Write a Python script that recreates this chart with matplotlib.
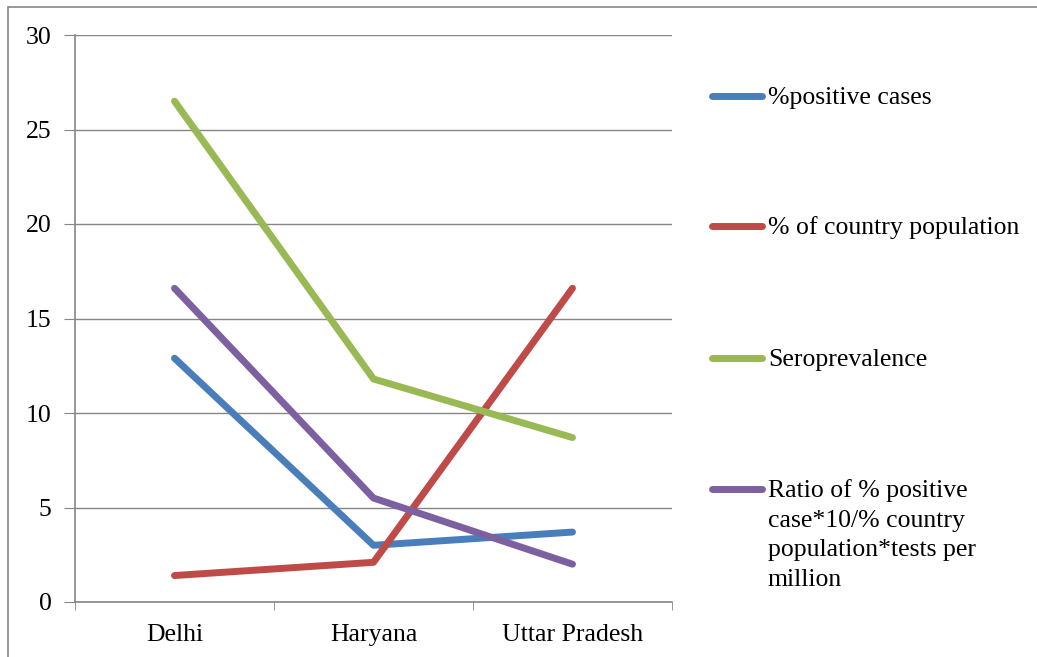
import matplotlib
matplotlib.use("Agg")
import matplotlib.pyplot as plt
from matplotlib.lines import Line2D
from matplotlib.patches import Rectangle

categories = ["Delhi", "Haryana", "Uttar Pradesh"]
positive_cases = [12.9, 3.0, 3.7]
country_population = [1.4, 2.1, 16.6]
seroprevalence = [26.5, 11.8, 8.7]
ratio = [16.6, 5.5, 2.0]
labels = ["%positive cases", "% of country population", "Seroprevalence",
          "Ratio of % positive\ncase*10/% country\npopulation*tests per\nmillion"]
colors = ["#4A7EBB", "#BE4B48", "#98B954", "#7D60A0"]
yticks = [0, 5, 10, 15, 20, 25, 30]

W, H = 1037, 657
fig = plt.figure(figsize=(W / 100, H / 100), dpi=100)
plt.rcParams['font.family'] = ['Liberation Serif', 'DejaVu Serif']
FS = 18.5

# outer chart border
fig.patches.append(Rectangle((8 / W, -0.1), 1.2, (H - 7) / H + 0.1, transform=fig.transFigure,
                             fill=False, edgecolor="#868686", linewidth=1.2))

ax = fig.add_axes([75 / W, (H - 602) / H, 597 / W, 567 / H])
x = list(range(len(categories)))
series = [positive_cases, country_population, seroprevalence, ratio]
for vals, c in zip(series, colors):
    ax.plot(x, vals, color=c, linewidth=5.0, solid_capstyle="round", solid_joinstyle="round", zorder=3)

ax.set_xlim(-0.5, 2.5)
ax.set_ylim(0, 30)
ax.set_yticks(yticks)
ax.set_yticklabels([str(v) for v in yticks], fontsize=FS)
ax.yaxis.grid(True, color="#868686", linewidth=1.0)
ax.set_axisbelow(True)
ax.set_xticks(x)
ax.set_xticklabels(categories, fontsize=FS)
ax.set_xticks([-0.5, 0.5, 1.5, 2.5], minor=True)
ax.tick_params(axis="x", which="major", length=0, pad=16)
ax.tick_params(axis="x", which="minor", length=6, color="#868686", direction="out")
ax.tick_params(axis="y", length=8, color="#868686", direction="out", pad=9)
for s in ["top", "right"]:
    ax.spines[s].set_visible(False)
for s in ["left", "bottom"]:
    ax.spines[s].set_color("#868686")
    ax.spines[s].set_linewidth(1.2)

# legend
ys = [96, 226, 358, 489]
for lab, c, yy in zip(labels, colors, ys):
    fig.add_artist(Line2D([712 / W, 762 / W], [(H - yy) / H] * 2, color=c, linewidth=5.0,
                          solid_capstyle="round", transform=fig.transFigure))
    for i, line in enumerate(lab.split("\n")):
        fig.text(768 / W, (H - yy - 2 - i * 29.5) / H, line, fontsize=FS, va="center",
                 ha="left", transform=fig.transFigure)

fig.savefig("out.png", dpi=100)
